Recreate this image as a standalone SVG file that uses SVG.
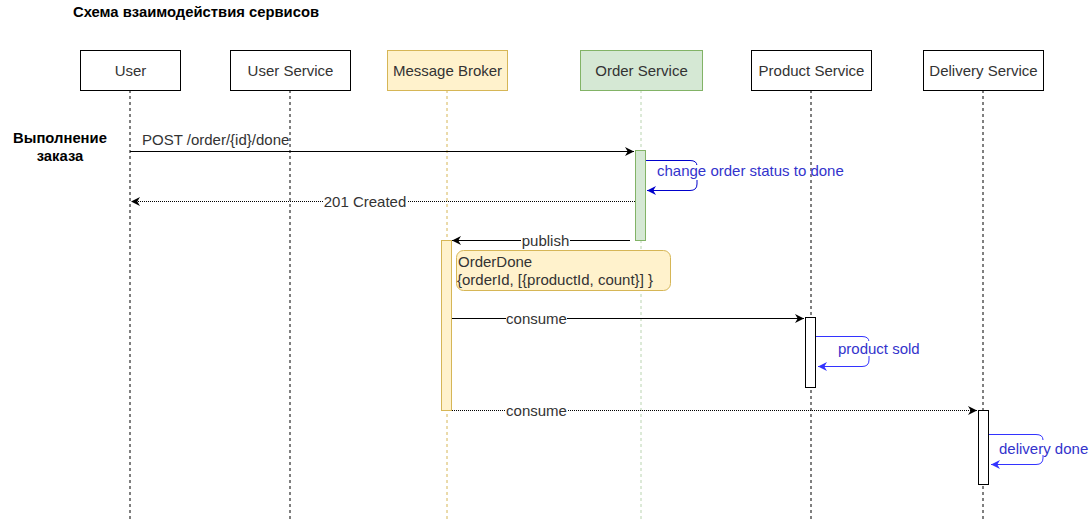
<svg xmlns="http://www.w3.org/2000/svg" width="1089" height="521" viewBox="0 0 1089 521">
<defs>
<style>
text{font-family:"Liberation Sans",Arial,sans-serif;font-size:15px;fill:#333}
.b{font-weight:bold;fill:#000;font-size:14.8px}
.c{text-anchor:middle}
.box{fill:#fff;stroke:#000;stroke-width:1}
.ylw{fill:#fff2cc;stroke:#d6b656;stroke-width:1}
.grn{fill:#d5e8d4;stroke:#82b366;stroke-width:1}
.life{stroke:#000;stroke-dasharray:3,3;fill:none}
.msg{stroke:#000;fill:none;stroke-width:1}
.dot{stroke:#000;fill:none;stroke-width:1;stroke-dasharray:1,1}
.blue{fill:#3333cc}
</style>
<marker id="ah" viewBox="0 0 10 10" refX="10" refY="5" markerWidth="9" markerHeight="9" markerUnits="userSpaceOnUse" orient="auto"><path d="M0,0 L10,5 L0,10 L3,5 z" fill="#000"/></marker>
<marker id="ahb" viewBox="0 0 10 10" refX="10" refY="5" markerWidth="9" markerHeight="9" markerUnits="userSpaceOnUse" orient="auto"><path d="M0,0 L10,5 L0,10 L3,5 z" fill="#0000cc"/></marker>
<marker id="ahl" viewBox="0 0 10 10" refX="10" refY="5" markerWidth="9" markerHeight="9" markerUnits="userSpaceOnUse" orient="auto"><path d="M0,0 L10,5 L0,10 L3,5 z" fill="#3333ff"/></marker>
</defs>
<rect width="1089" height="521" fill="#fff"/>
<text class="b" x="73" y="17">Схема взаимодействия сервисов</text>
<text class="b c" x="60" y="143">Выполнение</text>
<text class="b c" x="60" y="161">заказа</text>

<g id="lifelines">
<line class="life" x1="130" y1="90" x2="130" y2="521"/>
<line class="life" x1="290" y1="90" x2="290" y2="521"/>
<line class="life" x1="447" y1="90" x2="447" y2="521" style="stroke:#d6b656"/>
<line class="life" x1="641" y1="90" x2="641" y2="521" style="stroke:#b9d4b0"/>
<line class="life" x1="811" y1="90" x2="811" y2="521"/>
<line class="life" x1="983" y1="90" x2="983" y2="521"/>
</g>

<g id="user"><rect class="box" x="80.5" y="50.5" width="100" height="40"/><text class="c" x="130.5" y="76">User</text></g>
<g id="userService"><rect class="box" x="230.5" y="50.5" width="120" height="40"/><text class="c" x="290.5" y="76">User Service</text></g>
<g id="broker"><rect class="ylw" x="387.5" y="50.5" width="120" height="40"/><text class="c" x="447.5" y="76">Message Broker</text></g>
<g id="orderService"><rect class="grn" x="580.5" y="50.5" width="122" height="40"/><text class="c" x="641.5" y="76">Order Service</text></g>
<g id="productService"><rect class="box" x="751.5" y="50.5" width="120" height="40"/><text class="c" x="811.5" y="76">Product Service</text></g>
<g id="deliveryService"><rect class="box" x="923.5" y="50.5" width="120" height="40"/><text class="c" x="983.5" y="76">Delivery Service</text></g>

<g id="activations">
<rect class="grn" x="635.5" y="150.5" width="10" height="90"/>
<rect class="ylw" x="441.5" y="240.5" width="10" height="170"/>
<rect class="box" x="805.5" y="317.5" width="10" height="70"/>
<rect class="box" x="978.5" y="410.5" width="10" height="74"/>
</g>

<g id="note"><rect class="ylw" x="456.5" y="250.5" width="214" height="40" rx="7"/>
<text x="458" y="267">OrderDone</text>
<text x="457" y="285">{orderId, [{productId, count}] }</text></g>

<g id="connectors">
<line class="msg" x1="130" y1="151.5" x2="634" y2="151.5" marker-end="url(#ah)"/>
<text x="142" y="145">POST /order/{id}/done</text>

<line class="dot" x1="635" y1="201.5" x2="131" y2="201.5" marker-end="url(#ah)"/>
<rect x="323" y="194" width="84" height="15" fill="#fff"/>
<text class="c" x="365" y="207">201 Created</text>

<line class="msg" x1="630" y1="240.5" x2="452" y2="240.5" marker-end="url(#ah)"/>
<rect x="521" y="234" width="49" height="14" fill="#fff"/>
<text class="c" x="545.5" y="246">publish</text>

<line class="msg" x1="452" y1="318.5" x2="804" y2="318.5" marker-end="url(#ah)"/>
<rect x="506" y="311" width="61" height="14" fill="#fff"/>
<text class="c" x="536.5" y="324">consume</text>

<line class="dot" x1="452" y1="410.5" x2="977" y2="410.5" marker-end="url(#ah)"/>
<rect x="506" y="403" width="61" height="14" fill="#fff"/>
<text class="c" x="536.5" y="416">consume</text>

<path d="M646,160.5 H690 Q697,160.5 697,166 V184 Q697,190.5 690,190.5 H647" fill="none" stroke="#0000cc" marker-end="url(#ahb)"/>
<rect x="693" y="165" width="8" height="15" fill="#fff"/>
<text class="blue" x="657" y="176">change order status to done</text>

<path d="M816,336.5 H862 Q869,336.5 869,342 V360 Q869,366.5 862,366.5 H818" fill="none" stroke="#3333ff" marker-end="url(#ahl)"/>
<rect x="865" y="341" width="8" height="15" fill="#fff"/>
<text class="blue" x="838" y="354">product sold</text>

<path d="M989,434.5 H1036 Q1043,434.5 1043,440 V458 Q1043,464.5 1036,464.5 H991" fill="none" stroke="#3333ff" marker-end="url(#ahl)"/>
<rect x="1039" y="440" width="8" height="15" fill="#fff"/>
<text class="blue" x="999" y="454">delivery done</text>
</g>
</svg>
